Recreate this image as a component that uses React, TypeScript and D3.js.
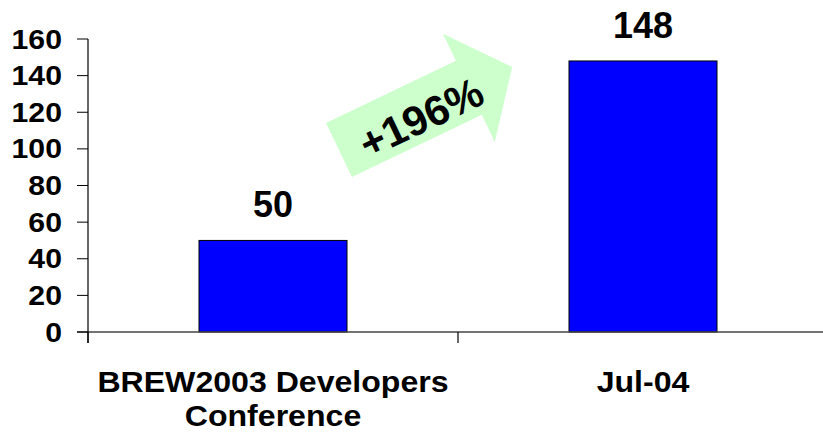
import * as d3 from "d3";
import { useEffect, useRef } from "react";

const categories = ["BREW2003 Developers|Conference", "Jul-04"];
const values = [50, 148];
const yTicks = [0, 20, 40, 60, 80, 100, 120, 140, 160];
const growthLabel = "+196%";

const FONT = "'Liberation Sans', Arial, Helvetica, sans-serif";

export default function App() {
    const ref = useRef(null);

    const width = 823,
        height = 437;

    useEffect(() => {
        const svg = d3.select(ref.current);
        svg.selectAll("*").remove();

        const x = d3.scaleBand<string>()
            .domain(categories)
            .range([88, 828])
            .padding(0);

        const y = d3.scaleLinear()
            .domain([0, 160])
            .range([332, 39]);

        const barW = x.bandwidth() * 0.4;

        // bars
        svg.selectAll("rect.bar")
            .data(values)
            .join("rect")
            .attr("class", "bar")
            .attr("x", (_d, i) => x(categories[i])! + (x.bandwidth() - barW) / 2)
            .attr("y", d => y(d))
            .attr("width", barW)
            .attr("height", d => y(0) - y(d))
            .attr("fill", "#0000FF")
            .attr("stroke", "#000")
            .attr("stroke-width", 1);

        // value labels
        svg.selectAll("text.val")
            .data(values)
            .join("text")
            .attr("class", "val")
            .attr("x", (_d, i) => x(categories[i])! + x.bandwidth() / 2)
            .attr("y", d => y(d) - 23)
            .attr("text-anchor", "middle")
            .style("font-family", FONT)
            .style("font-weight", "bold")
            .style("font-size", "36px")
            .text(d => d);

        // x axis line
        svg.append("line")
            .attr("x1", 77).attr("x2", width)
            .attr("y1", y(0)).attr("y2", y(0))
            .attr("stroke", "#444")
            .attr("stroke-width", 1.5);

        // y axis line
        svg.append("line")
            .attr("x1", 88).attr("x2", 88)
            .attr("y1", y(160)).attr("y2", y(0) + 11)
            .attr("stroke", "#000")
            .attr("stroke-width", 1.2);

        // category boundary ticks
        const bounds = categories.map(c => x(c)!).concat([x(categories[categories.length - 1])! + x.bandwidth()]);
        svg.selectAll("line.xtick")
            .data(bounds)
            .join("line")
            .attr("class", "xtick")
            .attr("x1", d => d).attr("x2", d => d)
            .attr("y1", y(0)).attr("y2", y(0) + 11)
            .attr("stroke", "#000")
            .attr("stroke-width", 1.2);

        // y ticks
        svg.selectAll("line.ytick")
            .data(yTicks)
            .join("line")
            .attr("class", "ytick")
            .attr("x1", 77).attr("x2", 88)
            .attr("y1", d => y(d)).attr("y2", d => y(d))
            .attr("stroke", "#000")
            .attr("stroke-width", 1);

        svg.selectAll("text.ylab")
            .data(yTicks)
            .join("text")
            .attr("class", "ylab")
            .attr("transform", d => `translate(62, ${y(d) + 9.5}) scale(1.12, 1)`)
            .attr("text-anchor", "end")
            .style("font-family", FONT)
            .style("font-weight", "bold")
            .style("font-size", "27px")
            .text(d => d);

        // category labels
        categories.forEach(c => {
            const lines = c.split("|");
            const cx = x(c)! + x.bandwidth() / 2;
            lines.forEach((ln, j) => {
                svg.append("text")
                    .attr("transform", `translate(${cx}, ${392 + j * 34}) scale(1.07, 1)`)
                    .attr("text-anchor", "middle")
                    .style("font-family", FONT)
                    .style("font-weight", "bold")
                    .style("font-size", "30px")
                    .text(ln);
            });
        });

        // growth arrow
        const L = 192, w = 30, hw = 60, hl = 48;
        const arrowPts: [number, number][] = [
            [0, -w], [L - hl, -w], [L - hl, -hw], [L, 0], [L - hl, hw], [L - hl, w], [0, w]
        ];
        const g = svg.append("g")
            .attr("transform", "translate(339, 150) rotate(-25.6)");
        g.append("path")
            .attr("d", d3.line()(arrowPts) + "Z")
            .attr("fill", "#CCFFCC");
        g.append("text")
            .attr("x", 88)
            .attr("y", 21)
            .attr("text-anchor", "middle")
            .style("font-family", FONT)
            .style("font-weight", "bold")
            .style("font-size", "42px")
            .text(growthLabel);
    }, []);

    return (
        <svg ref={ref} width={width} height={height}
            style={{ position: "absolute", left: 0, top: 0, background: "#fff" }} />
    );
}
